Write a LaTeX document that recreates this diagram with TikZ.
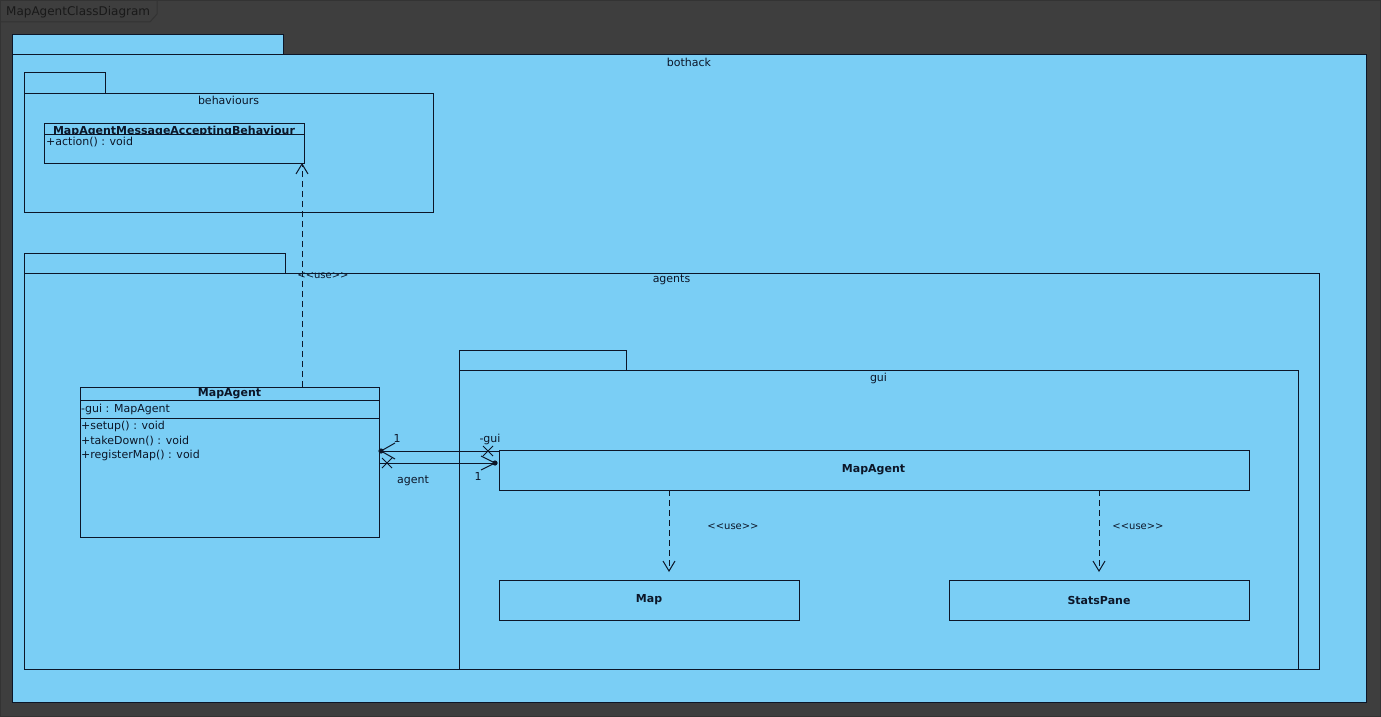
\documentclass[tikz,border=0pt]{standalone}
\usepackage{fontspec}
\setmainfont{DejaVu Sans}[Ligatures=NoCommon]
\usetikzlibrary{arrows.meta,calc}
\definecolor{bgdark}{RGB}{62,62,62}
\definecolor{pkgblue}{RGB}{122,206,245}
\definecolor{ink}{RGB}{12,22,40}
\newcommand{\usestereo}{{<}{<}use{>}{>}}
\begin{document}
\begin{tikzpicture}[x=1pt,y=-1pt,
  box/.style={draw=ink, fill=pkgblue, line width=1pt, inner sep=0pt, outer sep=0pt, anchor=north west},
  txt/.style={font=\fontsize{11}{13}\selectfont, text=ink, inner sep=0pt},
  btxt/.style={font=\fontsize{11}{13}\selectfont\bfseries, text=ink, inner sep=0pt},
  stereo/.style={font=\fontsize{10}{12}\selectfont, text=ink, inner sep=0pt},
  dep/.style={draw=ink, line width=1pt, dash pattern=on 6pt off 4pt, -{Straight Barb[length=10pt,width=12pt,line width=1pt]}},
  assoc/.style={draw=ink, line width=1pt},
  endmark/.style={draw=ink, line width=1pt}
]
% background and frame
\fill[bgdark] (0,0) rectangle (1381,717);
\useasboundingbox (0,0) rectangle (1381,717);
\draw[black!80, line width=1pt] (0.5,0.5) rectangle (1380.5,716.5);
\draw[black!80, line width=1pt] (0.5,22) -- (150,22) -- (157,14) -- (157,0.5);
\node[font=\fontsize{12}{14}\selectfont, text=black!90, inner sep=0pt, anchor=west] (title) at (6,12) {MapAgentClassDiagram};

% package bothack
\node[box, minimum width=271pt, minimum height=20pt] (bothacktab) at (12,35) {};
\node[box, minimum width=1354pt, minimum height=647pt] (bothack) at (12,55) {};
\node[txt] (bothacklbl) at (689,62) {bothack};

% package behaviours
\node[box, minimum width=81pt, minimum height=20pt] (behtab) at (24,73) {};
\node[box, minimum width=409pt, minimum height=119pt] (behpkg) at (24,93) {};
\node[txt] (behlbl) at (228.5,100) {behaviours};

% class MapAgentMessageAcceptingBehaviour
\node[box, minimum width=260pt, minimum height=40pt] (beh) at (44,123) {};
\draw[ink, line width=1pt] (44,134) -- (304,134);
\begin{scope}
  \clip (44,123) rectangle (304,134);
  \node[btxt, anchor=base] (behname) at (174,134.5) {MapAgentMessageAcceptingBehaviour};
\end{scope}
\node[txt, anchor=west] (behop) at (46,142) {+action() : void};

% package agents
\node[box, minimum width=261pt, minimum height=20pt] (agtab) at (24,253) {};
\node[box, minimum width=1295pt, minimum height=396pt] (agents) at (24,273) {};
\node[txt] (aglbl) at (671.5,280) {agents};

% package gui
\node[box, minimum width=167pt, minimum height=20pt] (guitab) at (459,350) {};
\node[box, minimum width=839pt, minimum height=299pt] (gui) at (459,370) {};
\node[txt] (guilbl) at (878.5,378) {gui};

% class MapAgent (agents)
\node[box, minimum width=299pt, minimum height=150pt] (lma) at (80,387) {};
\draw[ink, line width=1pt] (80,400) -- (379,400);
\draw[ink, line width=1pt] (80,418) -- (379,418);
\node[btxt] (lmaname) at (229.5,394) {MapAgent};
\node[txt, anchor=west] (lmaattr) at (81,409) {-gui : MapAgent};
\node[txt, anchor=west] (lmaop1) at (81,426) {+setup() : void};
\node[txt, anchor=west] (lmaop2) at (81,441) {+takeDown() : void};
\node[txt, anchor=west] (lmaop3) at (81,455) {+registerMap() : void};

% class MapAgent (gui)
\node[box, minimum width=750pt, minimum height=40pt] (gma) at (499,450) {};
\node[btxt] (gmaname) at (873.5,470) {MapAgent};

% class Map
\node[box, minimum width=300pt, minimum height=40pt] (map) at (499,580) {};
\node[btxt] (mapname) at (649,600) {Map};

% class StatsPane
\node[box, minimum width=300pt, minimum height=40pt] (stats) at (949,580) {};
\node[btxt] (statsname) at (1099,600) {StatsPane};

% dependencies
\coordinate (dx1) at (302,0);
\coordinate (dx2) at (669,0);
\coordinate (dx3) at (1099,0);
\draw[dep] (lma.north -| dx1) -- (beh.south -| dx1);
\draw[dep, shorten >=8pt] (gma.south -| dx2) -- (map.north -| dx2);
\draw[dep, shorten >=8pt] (gma.south -| dx3) -- (stats.north -| dx3);
\node[stereo] (use1) at (323,276) {\usestereo};
\node[stereo] (use2) at (733,527) {\usestereo};
\node[stereo] (use3) at (1138,527) {\usestereo};

% associations
\coordinate (ya) at (0,451);
\coordinate (yb) at (0,463);
\coordinate (a1) at (lma.east |- ya);
\coordinate (a2) at (gma.west |- ya);
\coordinate (b1) at (lma.east |- yb);
\coordinate (b2) at ($(gma.west |- yb)+(-4,0)$);
\draw[assoc] (a1) -- (a2);
\draw[assoc] (b1) -- (b2);
% end at left of line A: owned dot and navigable arrow
\fill[ink] ($(a1)+(2,0)$) circle (2.6pt);
\draw[endmark] ($(a1)+(16,-8)$) -- ($(a1)+(2,0)$) -- ($(a1)+(16,8)$);
% X at right of line A
\draw[endmark] ($(a2)+(-16,-5)$) -- ($(a2)+(-6,5)$);
\draw[endmark] ($(a2)+(-16,5)$) -- ($(a2)+(-6,-5)$);
% X at left of line B
\draw[endmark] ($(b1)+(3,-5)$) -- ($(b1)+(13,5)$);
\draw[endmark] ($(b1)+(3,5)$) -- ($(b1)+(13,-5)$);
% dot and arrow at right of line B
\fill[ink] (b2) circle (2.6pt);
\draw[endmark] ($(b2)+(-14,-7)$) -- (b2) -- ($(b2)+(-14,7)$);
% multiplicities and role names
\node[txt] (m1) at (397,438) {1};
\node[txt] (r1) at (490,439) {-gui};
\node[txt] (r2) at (413,481) {agent};
\node[txt] (m2) at (478,476) {1};
\end{tikzpicture}
\end{document}
